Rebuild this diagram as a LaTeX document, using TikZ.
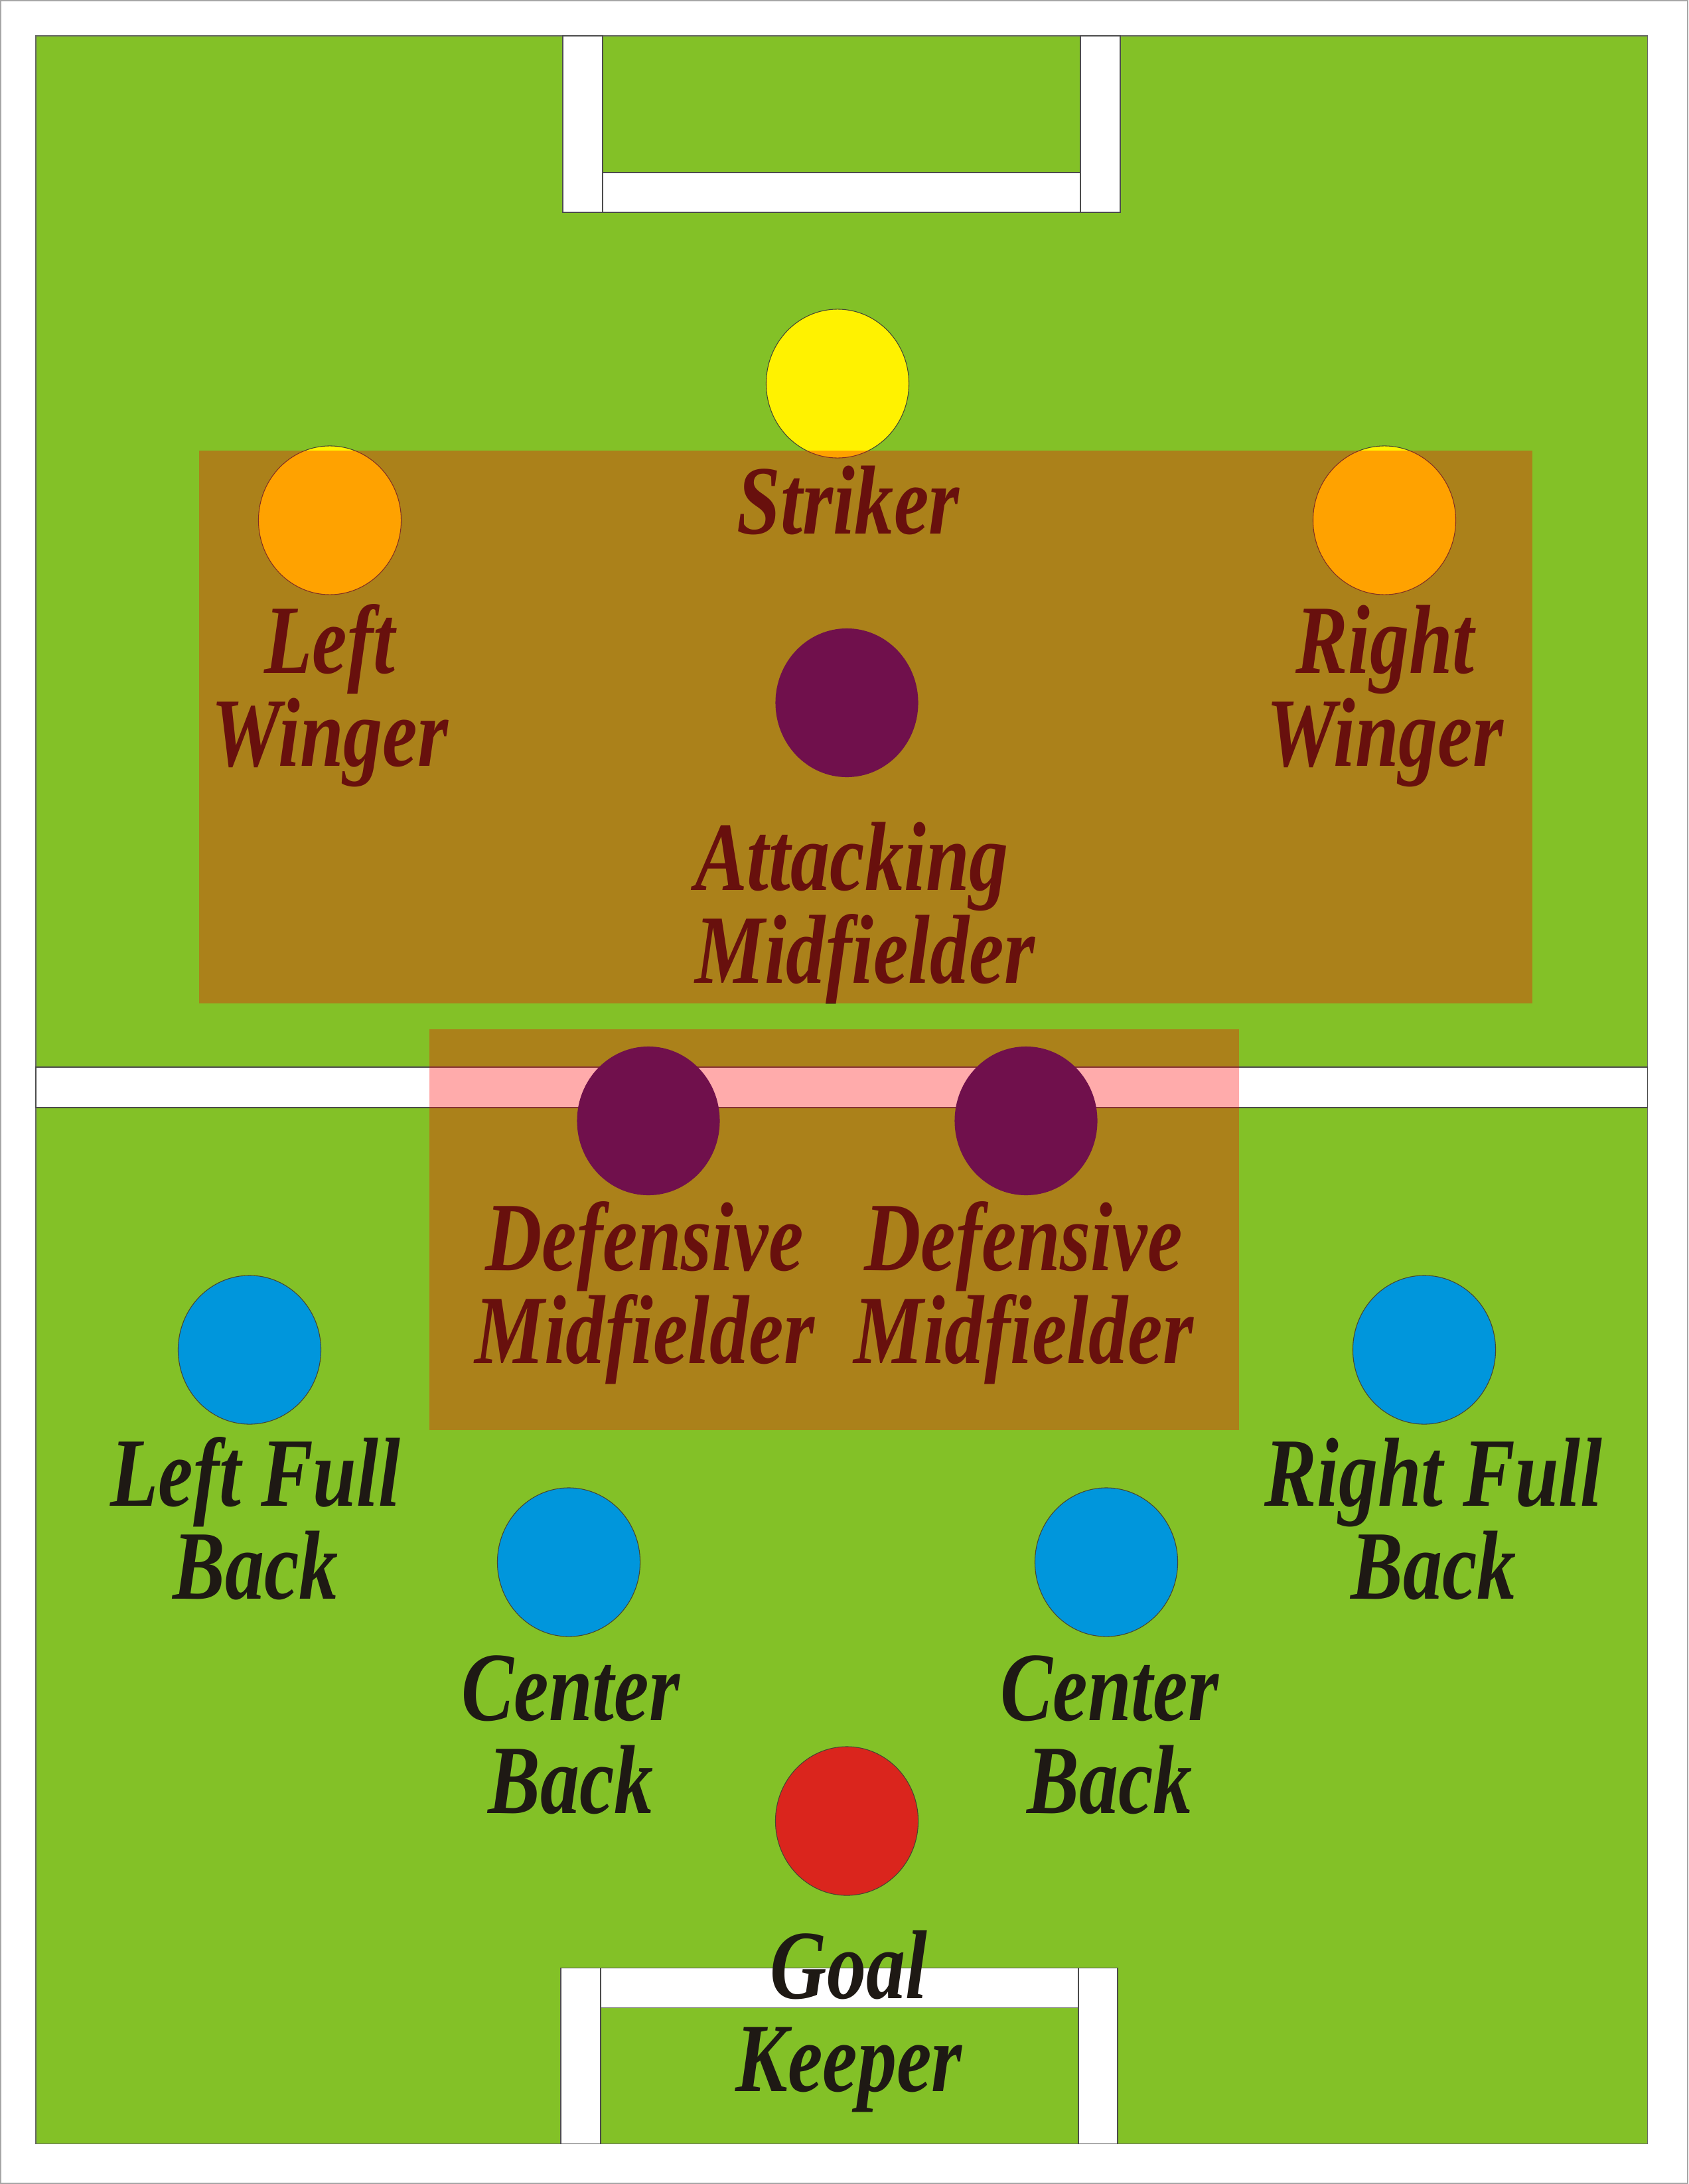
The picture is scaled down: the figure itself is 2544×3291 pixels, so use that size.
\documentclass[tikz,border=0pt]{standalone}
\usepackage{fontspec}
\newfontfamily\posfont{Liberation Serif}[FakeStretch=0.8]
\usetikzlibrary{shapes.geometric}

\definecolor{pitch}{RGB}{131,193,39}
\definecolor{sunY}{RGB}{255,242,0}
\definecolor{backB}{RGB}{0,150,220}
\definecolor{keepR}{RGB}{218,37,29}
\definecolor{midP}{RGB}{112,16,76}
\definecolor{ink}{RGB}{30,25,20}
\definecolor{rim}{RGB}{70,70,50}

\begin{document}
\begin{tikzpicture}[x=0.01cm,y=-0.01cm,
    player/.style={ellipse,minimum width=2.15cm,minimum height=2.24cm,inner sep=0,draw=rim,line width=0.3pt},
    lbl/.style={font=\posfont\bfseries\itshape\fontsize{42}{39.8}\selectfont,text=ink,align=center,anchor=base,inner sep=0},
    zone/.style={fill=red,fill opacity=0.33},
    white line/.style={fill=white,draw=black!70,line width=0.3pt}]

    \useasboundingbox (0,0) rectangle (2544,3291);

    % Page and pitch
    \draw[gray!70,line width=0.6pt,fill=white] (1,1) rectangle (2543,3290);
    \draw[fill=pitch,draw=black!60,line width=0.3pt] (54,54) rectangle (2482,3230);

    % Goals
    \draw[white line] (848,54) rectangle (908,320);
    \draw[white line] (908,260) rectangle (1628,320);
    \draw[white line] (1628,54) rectangle (1688,320);
    \draw[white line] (845,2965) rectangle (905,3230);
    \draw[white line] (905,2965) rectangle (1625,3025);
    \draw[white line] (1625,2965) rectangle (1684,3230);

    % Halfway line
    \draw[white line] (54,1608) rectangle (2482,1669);

    % Players
    \node[player,fill=sunY] (st) at (1262,578) {};
    \node[player,fill=sunY] (lw) at (497,784) {};
    \node[player,fill=sunY] (rw) at (2086,784) {};
    \node[player,fill=backB] (lfb) at (376,2034) {};
    \node[player,fill=backB] (rfb) at (2146,2034) {};
    \node[player,fill=backB] (lcb) at (857,2354) {};
    \node[player,fill=backB] (rcb) at (1667,2354) {};
    \node[player,fill=keepR] (gk) at (1276,2744) {};

    % Labels
    \node[lbl] (stL) at (1278,804) {Striker};
    \node[lbl] (lwL) at (497,1154) {Left\\Winger};
    \node[lbl] (rwL) at (2087,1154) {Right\\Winger};
    \node[lbl,align=left] (amL) at (1303,1481) {Attacking\\Midfielder};
    \node[lbl] (dmlL) at (971,2054) {Defensive\\Midfielder};
    \node[lbl] (dmrL) at (1542,2054) {Defensive\\Midfielder};
    \node[lbl] (lfbL) at (385,2409) {Left Full\\Back};
    \node[lbl] (rfbL) at (2160,2409) {Right Full\\Back};
    \node[lbl] (lcbL) at (860,2732) {Center\\Back};
    \node[lbl] (rcbL) at (1672,2732) {Center\\Back};
    \node[lbl] (gkL) at (1279,3151) {Goal\\Keeper};

    % Zones
    \fill[zone] (300,679) rectangle (2309,1512);
    \fill[zone] (647,1551) rectangle (1867,2155);

    % Midfield players
    \node[player,fill=midP,draw=none] (am) at (1276,1059) {};
    \node[player,fill=midP,draw=none] (dml) at (977,1689) {};
    \node[player,fill=midP,draw=none] (dmr) at (1546,1689) {};

\end{tikzpicture}
\end{document}
